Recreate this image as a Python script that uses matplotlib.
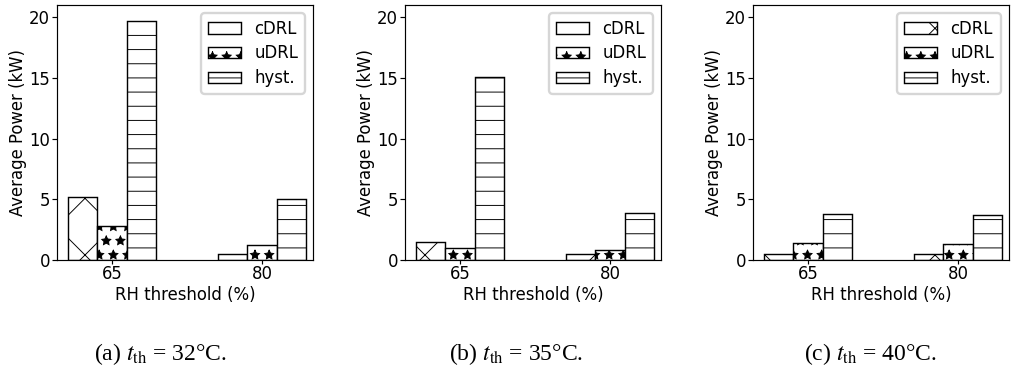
"""Average power per RH threshold for three temperature thresholds."""

import matplotlib

matplotlib.use("Agg")
import matplotlib.pyplot as plt
import numpy as np

# RH thresholds on the x axis
rh_labels = ["65", "80"]
methods = ["cDRL", "uDRL", "hyst."]

# average power (kW) per panel, one list per method: [RH 65, RH 80]
cdrl = [[5.15, 0.49], [1.45, 0.49], [0.52, 0.49]]
udrl = [[2.80, 1.26], [0.96, 0.79], [1.40, 1.32]]
hyst = [[19.70, 4.99], [15.07, 3.84], [3.75, 3.67]]

captions = [
    r"(a) $t_{\mathrm{th}}$ = 32°C.",
    r"(b) $t_{\mathrm{th}}$ = 35°C.",
    r"(c) $t_{\mathrm{th}}$ = 40°C.",
]

hatches = ["x", "**", "--"]

# hatch tiles are one inch in pixels, so dpi sets the hatch spacing
DPI = 170
plt.rcParams["font.family"] = "DejaVu Sans"
plt.rcParams["font.size"] = 7
plt.rcParams["hatch.linewidth"] = 0.4
plt.rcParams["axes.linewidth"] = 0.5
plt.rcParams["xtick.major.width"] = 0.5
plt.rcParams["ytick.major.width"] = 0.5
plt.rcParams["xtick.major.size"] = 1.7
plt.rcParams["ytick.major.size"] = 2.3
plt.rcParams["xtick.major.pad"] = 0.6
plt.rcParams["ytick.major.pad"] = 0.6
plt.rcParams["mathtext.fontset"] = "stix"

W, H = 1015, 372
fig = plt.figure(figsize=(W / DPI, H / DPI), dpi=DPI)

lefts = [57, 405, 753]
ax_w, ax_top, ax_bot = 256, 5, 260

x = np.arange(len(rh_labels))
width = 0.195

for i, left in enumerate(lefts):
    ax = fig.add_axes([left / W, (H - ax_bot) / H, ax_w / W, (ax_bot - ax_top) / H])
    series = [cdrl[i], udrl[i], hyst[i]]
    for j, (name, vals) in enumerate(zip(methods, series)):
        ax.bar(
            x + (j - 1) * width,
            vals,
            width,
            color="white",
            edgecolor="black",
            linewidth=0.6,
            hatch=hatches[j],
            label=name,
        )
    ax.set_xticks(x)
    ax.set_xticklabels(rh_labels)
    ax.set_xlim(-0.367, 1.34)
    ax.set_ylim(0, 21)
    ax.set_yticks([0, 5, 10, 15, 20])
    ax.set_xlabel("RH threshold (%)", labelpad=1)
    ax.set_ylabel("Average Power (kW)", labelpad=1)
    ax.legend(loc="upper right", fontsize=7, labelspacing=0.4)

    cx = [160, 516, 870][i]
    fig.text(cx / W, 1 - 354 / H, captions[i], ha="center", va="center",
             family="Liberation Serif", fontsize=10)

fig.savefig("out.png", dpi=DPI)
